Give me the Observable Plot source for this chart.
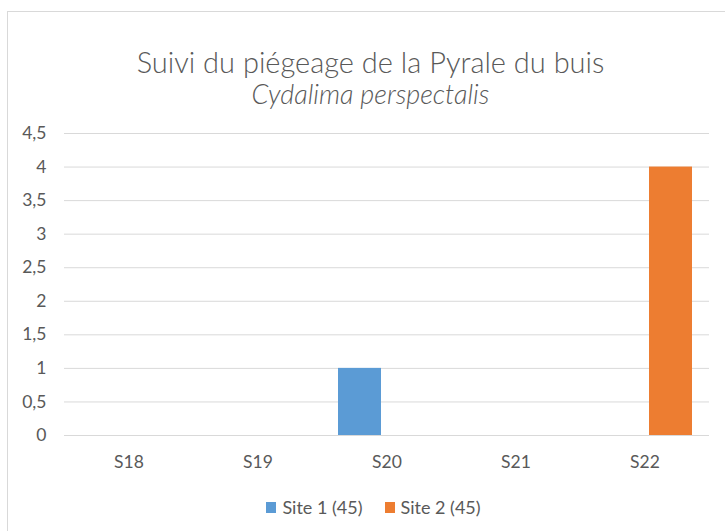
<!DOCTYPE html>
<html>
<head>
<meta charset="utf-8">
<script src="https://cdn.jsdelivr.net/npm/d3@7"></script>
<script src="https://cdn.jsdelivr.net/npm/@observablehq/plot@0.6"></script>
<style>
  html, body { margin: 0; padding: 0; background: #fff; overflow: hidden; }
  body { width: 725px; height: 531px; position: relative; font-family: Lato, "Open Sans", sans-serif; color: #595959; }
  #frame { position: absolute; left: 7px; top: 11px; width: 740px; height: 540px; border: 1px solid #d9d9d9; box-sizing: border-box; }
  #title { position: absolute; left: 0; width: 725px; top: 46px; text-align: center; font-size: 29px; font-weight: 300; line-height: 31px; padding-left: 16px; box-sizing: border-box; }
  #title .sub { font-style: italic; font-size: 27px; }
  #chart { position: absolute; left: 0; top: 110px; }
  #legend { position: absolute; top: 495px; left: 0; width: 725px; display: flex; justify-content: center; gap: 22px; font-size: 18px; line-height: 24px; padding-left: 22px; box-sizing: border-box; }
  #legend span.item { display: flex; align-items: center; gap: 6px; }
  #legend span.sw { width: 10px; height: 11px; display: inline-block; }
</style>
</head>
<body>
<div id="frame"></div>
<div id="title">Suivi du piégeage de la Pyrale du buis<br><span class="sub">Cydalima perspectalis</span></div>
<div id="chart"></div>
<div id="legend"></div>
<script>
const weeks = ["S18", "S19", "S20", "S21", "S22"];
const series = ["Site 1 (45)", "Site 2 (45)"];
const site1 = [0, 0, 1, 0, 0];
const site2 = [0, 0, 0, 0, 4];
const colors = ["#5B9BD5", "#ED7D31"];
const yTicks = [0, 0.5, 1, 1.5, 2, 2.5, 3, 3.5, 4, 4.5];

const data = [];
weeks.forEach((w, i) => {
  data.push({week: w, site: series[0], value: site1[i]});
  data.push({week: w, site: series[1], value: site2[i]});
});

const fmt = d => String(d).replace(".", ",");

const chart = Plot.plot({
  width: 725,
  height: 370,
  marginLeft: 64,
  marginRight: 16,
  marginTop: 23,
  marginBottom: 45,
  style: {fontFamily: "Lato, 'Open Sans', sans-serif", fontSize: "17.5px", color: "#595959", background: "transparent"},
  fx: {domain: weeks, paddingInner: 0, paddingOuter: 0, label: null, axis: "bottom", tickSize: 0, tickPadding: 20},
  x: {domain: series, paddingInner: 0.185, paddingOuter: 0.287, axis: null},
  y: {domain: [0, 4.5], ticks: yTicks, tickFormat: fmt, tickSize: 0, tickPadding: 18, label: null},
  color: {domain: series, range: colors},
  marks: [
    Plot.ruleY(yTicks, {stroke: "#d9d9d9", strokeWidth: 1}),
    Plot.barY(data, {fx: "week", x: "site", y: "value", fill: "site"})
  ]
});
document.getElementById("chart").appendChild(chart);

const legend = document.getElementById("legend");
series.forEach((s, i) => {
  const item = document.createElement("span");
  item.className = "item";
  const sw = document.createElement("span");
  sw.className = "sw";
  sw.style.background = colors[i];
  item.appendChild(sw);
  item.appendChild(document.createTextNode(s));
  legend.appendChild(item);
});
</script>
</body>
</html>
